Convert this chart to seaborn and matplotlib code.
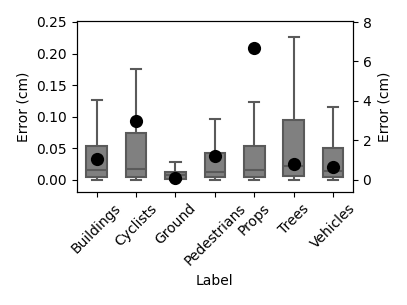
import numpy as np
import pandas as pd
import matplotlib
matplotlib.use("Agg")
import matplotlib.pyplot as plt
import seaborn as sns

# Box summary per label (left axis, cm): min, q1, median, q3, max
labels = ["Buildings", "Cyclists", "Ground", "Pedestrians", "Props", "Trees", "Vehicles"]
mins = [0.0, 0.0, 0.0, 0.0, 0.0, 0.0, 0.0]
q1s = [0.005, 0.005, 0.001, 0.005, 0.005, 0.006, 0.005]
medians = [0.016, 0.017, 0.008, 0.012, 0.015, 0.022, 0.014]
q3s = [0.0535, 0.0735, 0.013, 0.042, 0.053, 0.0955, 0.0506]
maxs = [0.126, 0.175, 0.0285, 0.096, 0.124, 0.226, 0.1155]

# Black dots (right axis, cm)
dot_values = [1.08, 2.98, 0.07, 1.2, 6.68, 0.78, 0.66]

rows = []
for lab, a, b, c, d, e in zip(labels, mins, q1s, medians, q3s, maxs):
    for v in (a, b, c, d, e):
        rows.append({"Label": lab, "Error (cm)": v})
box_df = pd.DataFrame(rows)
dot_df = pd.DataFrame({"Label": labels, "Error (cm)": dot_values})

fig, ax = plt.subplots(figsize=(4.07, 3.05), dpi=100)
fig.subplots_adjust(left=0.189, right=0.867, top=0.931, bottom=0.371)

sns.boxplot(data=box_df, x="Label", y="Error (cm)", order=labels, ax=ax,
            color="#808080", saturation=1, linecolor="#5a5a5a", linewidth=1.5,
            width=0.52, whis=(0, 100), showfliers=False)
ax.set_ylim(-0.019, 0.2515)
ax.set_yticks([0.0, 0.05, 0.10, 0.15, 0.20, 0.25])
ax.set_yticklabels(["0.00", "0.05", "0.10", "0.15", "0.20", "0.25"])
ax.set_xlabel("Label")
ax.set_ylabel("Error (cm)")

ax2 = ax.twinx()
sns.stripplot(data=dot_df, x="Label", y="Error (cm)", order=labels, ax=ax2,
              jitter=False, color="black", size=9.5, zorder=5)
ax2.set_ylim(-0.61, 8.05)
ax2.set_yticks([0, 2, 4, 6, 8])
ax2.set_ylabel("Error (cm)")
ax2.set_xlabel("Label")

ax.set_xticks(range(len(labels)))
ax.set_xticklabels(labels, rotation=45)

fig.savefig("out.png", dpi=100)
